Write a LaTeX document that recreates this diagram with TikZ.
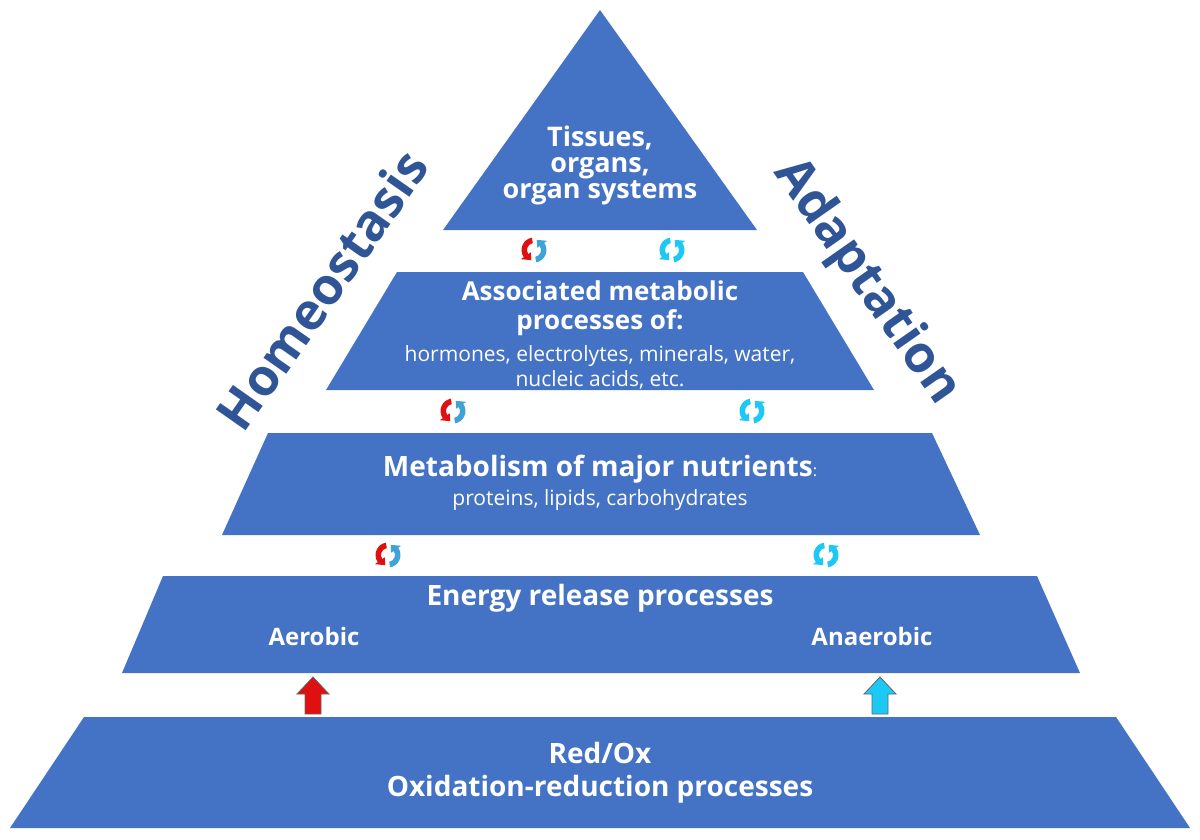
\documentclass[tikz,border=0pt]{standalone}
\usepackage{fontspec}
\setmainfont{Open Sans}
\usetikzlibrary{arrows.meta}
\definecolor{box}{HTML}{4472C4}
\definecolor{dark}{HTML}{2F5597}
\definecolor{cy}{HTML}{1CC8F5}
\definecolor{bl}{HTML}{3FA3D8}
\definecolor{rd}{HTML}{E01010}
\tikzset{
 lvl/.style={fill=box,draw=none},
 t/.style={text=white,align=center,font=\bfseries\fontsize{28}{33}\selectfont},
 s/.style={text=white,align=center,font=\fontsize{21}{25}\selectfont},
 side/.style={text=dark,font=\bfseries\fontsize{51}{55}\selectfont},
 up/.style={draw=black!60,line width=0.8pt},
}
% half of a cycle icon: centre, start angle, end angle, colour
\newcommand{\halfcyc}[4]{%
 \fill[#4] (#1)++(#2:7pt) arc(#2:#3:7pt) -- ++(#3:-3pt) -- ($(#1)+(#3+40:10.5pt)$) -- ($(#1)+(#3:16pt)$) -- ($(#1)+(#3:12.5pt)$) arc(#3:#2:12.5pt) -- cycle;}
\newcommand{\cycico}[3]{\halfcyc{#1}{100}{215}{#2}\halfcyc{#1}{280}{395}{#3}}
\usetikzlibrary{calc}
\begin{document}
\begin{tikzpicture}[x=1pt,y=-1pt]
\useasboundingbox (0,0) rectangle (1200,839);
\fill[lvl] (600,10)--(757,230)--(443,230)--cycle;
\fill[lvl] (397,272)--(803,272)--(874,390)--(326,390)--cycle;
\fill[lvl] (268,433)--(932,433)--(980,535)--(222,535)--cycle;
\fill[lvl] (163,576)--(1037,576)--(1080,673)--(122,673)--cycle;
\fill[lvl] (84,717)--(1116,717)--(1190,828)--(10,828)--cycle;
\node[t,font=\bfseries\fontsize{27}{26}\selectfont] (n1) at (600,165) {Tissues,\\organs,\\organ systems};
\node[t,font=\bfseries\fontsize{26}{29}\selectfont] (n2a) at (600,308) {Associated metabolic\\processes of:};
\node[s] (n2b) at (600,367) {hormones, electrolytes, minerals, water,\\nucleic acids, etc.};
\node[t] (n3a) at (600,469) {Metabolism of major nutrients\mdseries\fontsize{16}{16}\selectfont:};
\node[s] (n3b) at (600,500) {proteins, lipids, carbohydrates};
\node[t] (n4) at (600,598) {Energy release processes};
\node[t,font=\bfseries\fontsize{24}{28}\selectfont] (ae) at (314,636) {Aerobic};
\node[t,font=\bfseries\fontsize{24}{28}\selectfont] (an) at (872,636) {Anaerobic};
\node[t] (n5) at (600,773) {Red/Ox\\Oxidation-reduction processes};
\node[side,rotate=55,inner sep=0pt] (h) at (322,290) {Homeostasis};
\node[side,rotate=-55,inner sep=0pt] (a) at (866,282) {Adaptation};
\coordinate (c1) at (534,250); \coordinate (c2) at (672,250);
\coordinate (c3) at (453,411); \coordinate (c4) at (752,411);
\coordinate (c5) at (388,555); \coordinate (c6) at (826,555);
\cycico{c1}{rd}{bl}\cycico{c2}{cy}{cy}
\cycico{c3}{rd}{bl}\cycico{c4}{cy}{cy}
\cycico{c5}{rd}{bl}\cycico{c6}{cy}{cy}
\draw[up,fill=rd] (305,714)--(305,694)--(297,694)--(313,677)--(329,694)--(321,694)--(321,714)--cycle;
\draw[up,fill=cy] (872,714)--(872,694)--(864,694)--(880,677)--(896,694)--(888,694)--(888,714)--cycle;
\end{tikzpicture}
\end{document}
